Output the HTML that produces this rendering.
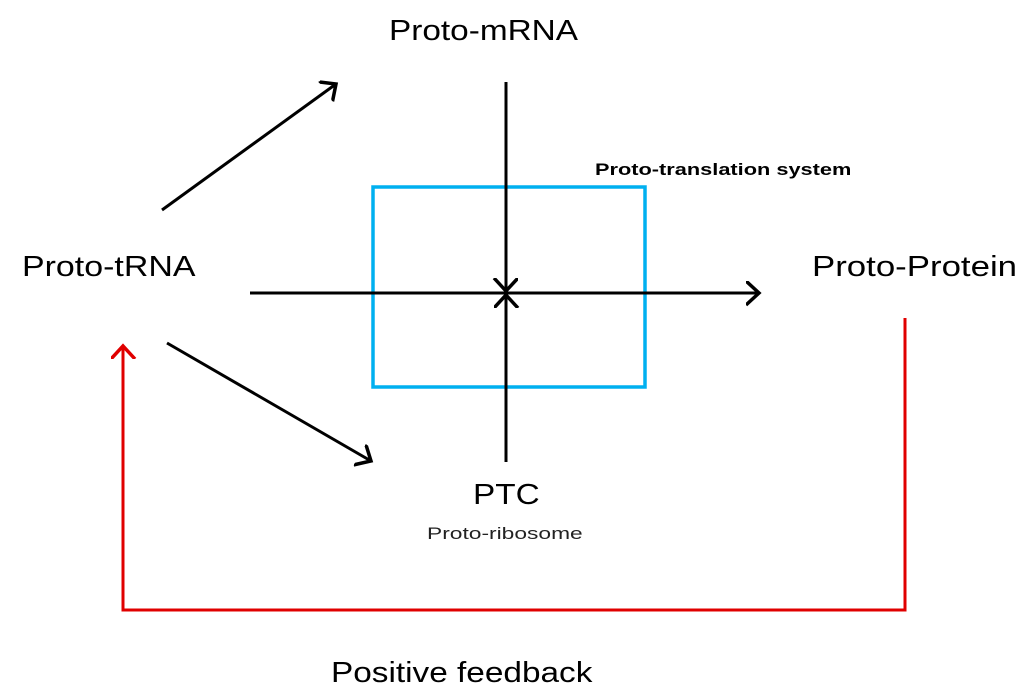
<!DOCTYPE html>
<html><head><style>
body{margin:0;background:#fff;}
.t{position:absolute;font-family:"Liberation Sans",sans-serif;color:#000;white-space:nowrap;transform-origin:0 0;}
</style></head><body>
<div style="position:relative;width:1024px;height:697px;overflow:hidden;">
<svg width="1024" height="697" style="position:absolute;left:0;top:0">
<defs>
<marker id="a" markerWidth="20" markerHeight="30" refX="13" refY="12" orient="auto" markerUnits="userSpaceOnUse">
<path d="M0,0 L13,12 L0,24" fill="none" stroke="#000" stroke-width="3.5"/></marker>
<marker id="r" markerWidth="20" markerHeight="30" refX="13" refY="12" orient="auto" markerUnits="userSpaceOnUse">
<path d="M0,0 L13,12 L0,24" fill="none" stroke="#e00000" stroke-width="3.5"/></marker>
</defs>
<rect x="373" y="187" width="272" height="200" fill="none" stroke="#00b0f0" stroke-width="3.5"/>
<line x1="250" y1="293" x2="759" y2="293" stroke="#000" stroke-width="3" marker-end="url(#a)"/>
<line x1="506" y1="82" x2="506" y2="291" stroke="#000" stroke-width="3" marker-end="url(#a)"/>
<line x1="506" y1="462" x2="506" y2="295" stroke="#000" stroke-width="3" marker-end="url(#a)"/>
<line x1="162" y1="210" x2="336" y2="84" stroke="#000" stroke-width="3" marker-end="url(#a)"/>
<line x1="167" y1="343" x2="371" y2="461" stroke="#000" stroke-width="3" marker-end="url(#a)"/>
<polyline points="905,318 905,610 123,610 123,346" fill="none" stroke="#e00000" stroke-width="3" marker-end="url(#r)"/>
</svg>
<div class="t" style="left:389px;top:15px;font-size:29px;transform:scaleX(1.15)">Proto-mRNA</div>
<div class="t" style="left:22px;top:251px;font-size:29px;transform:scaleX(1.17)">Proto-tRNA</div>
<div class="t" style="left:812px;top:251px;font-size:29px;transform:scaleX(1.2)">Proto-Protein</div>
<div class="t" style="left:473px;top:479px;font-size:29px;transform:scaleX(1.15)">PTC</div>
<div class="t" style="left:427px;top:524px;font-size:17px;color:#222;transform:scaleX(1.34)">Proto-ribosome</div>
<div class="t" style="left:331px;top:657px;font-size:29px;transform:scaleX(1.15)">Positive feedback</div>
<div class="t" style="left:595px;top:160px;font-size:17px;font-weight:bold;transform:scaleX(1.28)">Proto-translation system</div>
</div>
</body></html>
